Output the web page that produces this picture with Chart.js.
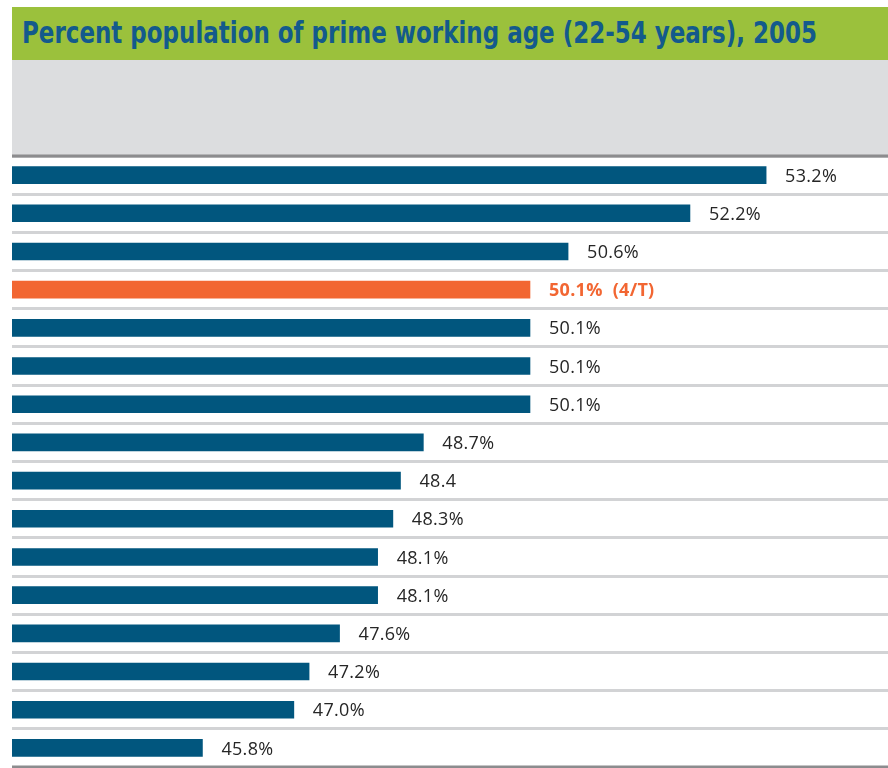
<!DOCTYPE html>
<html>
<head>
<meta charset="utf-8">
<script src="https://cdn.jsdelivr.net/npm/chart.js@4"></script>
<style>
  html, body { margin: 0; padding: 0; background: #ffffff; }
  #wrap { position: relative; width: 888px; height: 768px; overflow: hidden; }
  #titleBand {
    position: absolute; left: 12px; top: 7px; width: 876px; height: 53px;
    background: #9bc13c;
  }
  #title {
    position: absolute; left: 10px; top: 9px; white-space: nowrap;
    font-family: "Liberation Sans Narrow", "DejaVu Sans Condensed", "Roboto", sans-serif;
    font-weight: bold; font-size: 30px; line-height: 34px; color: #135a8c;
    transform-origin: 0 0;
  }
  #greyBand {
    position: absolute; left: 12px; top: 60px; width: 876px; height: 96px;
    background: #dcdddf;
  }
  #chartBox { position: absolute; left: 0; top: 0; width: 888px; height: 768px; }
</style>
</head>
<body>
<div id="wrap">
  <div id="titleBand"><span id="title">Percent population of prime working age (22-54 years), 2005</span></div>
  <div id="greyBand"></div>
  <div id="chartBox"><canvas id="c" width="888" height="768"></canvas></div>
</div>
<script>
// Ranks (top to bottom)
const ranks = ['1','2','3','4','5','6','7','8','9','10','11','12','13','14','15','16'];
// Share of population aged 22-54, 2005 (%)
const shares = [53.2, 52.2, 50.6, 50.1, 50.1, 50.1, 50.1, 48.7, 48.4, 48.3, 48.1, 48.1, 47.6, 47.2, 47.0, 45.8];
// Printed value labels
const valueLabels = ['53.2%', '52.2%', '50.6%', '50.1%  (4/T)', '50.1%', '50.1%', '50.1%', '48.7%', '48.4', '48.3%', '48.1%', '48.1%', '47.6%', '47.2%', '47.0%', '45.8%'];
// Row that is highlighted
const highlightIndex = 3;

const BLUE = '#01567e';
const ORANGE = '#f26632';
const RULE_DARK = '#8c8c8e';
const RULE_LIGHT = '#d2d3d5';

// Fit the heading to its printed width
(function () {
  const t = document.getElementById('title');
  const w = t.getBoundingClientRect().width;
  if (w > 0) t.style.transform = 'scaleX(' + (795 / w) + ')';
})();

const valueLabelPlugin = {
  id: 'valueLabels',
  afterDatasetsDraw(chart) {
    const ctx = chart.ctx;
    const meta = chart.getDatasetMeta(0);
    ctx.save();
    ctx.textBaseline = 'middle';
    ctx.textAlign = 'left';
    meta.data.forEach((bar, i) => {
      const hi = i === highlightIndex;
      ctx.font = (hi ? 'bold ' : '') + '18px "Open Sans", "Noto Sans", sans-serif';
      ctx.fillStyle = hi ? ORANGE : '#262626';
      try { ctx.letterSpacing = '0.3px'; } catch (e) {}
      ctx.fillText(valueLabels[i], bar.x + 19, bar.y + 1.5);
    });
    ctx.restore();
  }
};

// Dark rules along the top and bottom of the bar panel
const frameRulePlugin = {
  id: 'frameRules',
  afterDraw(chart) {
    const { ctx, chartArea } = chart;
    ctx.save();
    ctx.fillStyle = RULE_DARK;
    ctx.fillRect(chartArea.left, chartArea.top - 1.5, chartArea.right - chartArea.left, 3);
    ctx.fillRect(chartArea.left, chartArea.bottom - 1.5, chartArea.right - chartArea.left, 3);
    ctx.restore();
  }
};

new Chart(document.getElementById('c'), {
  type: 'bar',
  data: {
    labels: ranks,
    datasets: [{
      data: shares,
      backgroundColor: shares.map((_, i) => i === highlightIndex ? ORANGE : BLUE),
      borderWidth: 0,
      barThickness: 17
    }]
  },
  options: {
    indexAxis: 'y',
    responsive: false,
    animation: false,
    layout: { padding: { top: 156, left: 12, right: 0, bottom: 1 } },
    plugins: { legend: { display: false }, tooltip: { enabled: false }, title: { display: false } },
    scales: {
      x: {
        type: 'linear',
        min: 43.3,
        max: 54.8,
        display: false
      },
      y: {
        type: 'category',
        offset: true,
        ticks: { display: false },
        border: { display: false },
        grid: {
          offset: true,
          drawTicks: false,
          lineWidth: 3,
          color: RULE_LIGHT
        },
        afterFit(scale) { scale.width = 0; }
      }
    }
  },
  plugins: [valueLabelPlugin, frameRulePlugin]
});
</script>
</body>
</html>
